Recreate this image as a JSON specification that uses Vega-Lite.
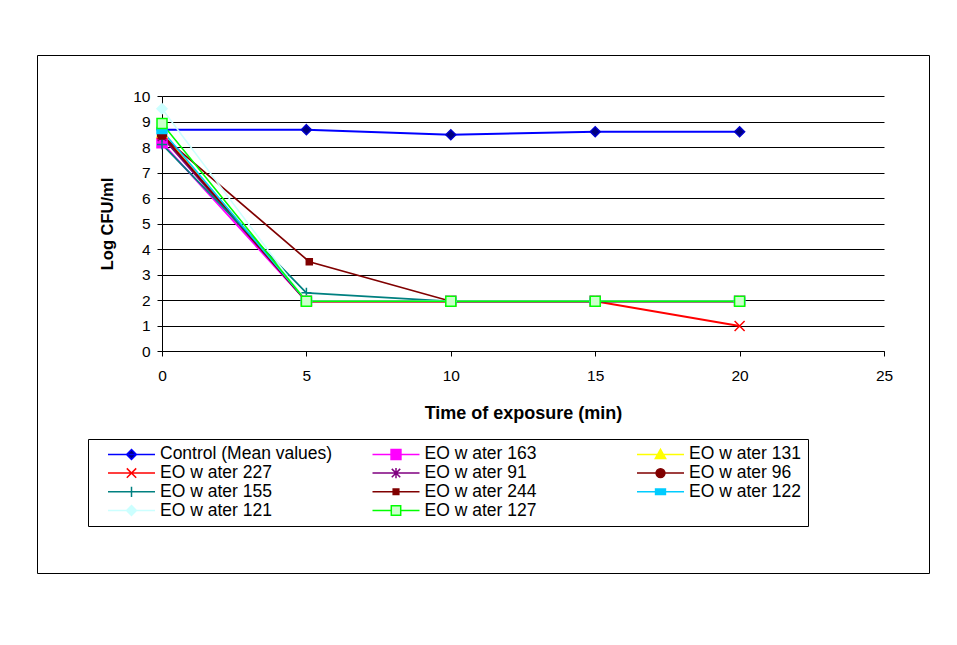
{
  "$schema": "https://vega.github.io/schema/vega-lite/v6.json",
  "autosize": {"type": "none"},
  "width": 892,
  "height": 518,
  "padding": {"left": 37, "top": 55, "right": 28, "bottom": 72},
  "background": "white",
  "config": {
    "view": {"stroke": "#000", "strokeWidth": 1},
    "font": "Liberation Sans"
  },
  "data": {
    "values": [
      {"series": "Control (Mean values)", "time": 0, "value": 8.68},
      {"series": "Control (Mean values)", "time": 5, "value": 8.68},
      {"series": "Control (Mean values)", "time": 10, "value": 8.48},
      {"series": "Control (Mean values)", "time": 15, "value": 8.6},
      {"series": "Control (Mean values)", "time": 20, "value": 8.6},
      {"series": "EO w ater 163", "time": 0, "value": 8.17},
      {"series": "EO w ater 163", "time": 5, "value": 1.95},
      {"series": "EO w ater 163", "time": 10, "value": 1.95},
      {"series": "EO w ater 163", "time": 15, "value": 1.95},
      {"series": "EO w ater 163", "time": 20, "value": 1.95},
      {"series": "EO w ater 131", "time": 0, "value": 8.55},
      {"series": "EO w ater 131", "time": 5, "value": 1.95},
      {"series": "EO w ater 131", "time": 10, "value": 1.95},
      {"series": "EO w ater 131", "time": 15, "value": 1.95},
      {"series": "EO w ater 131", "time": 20, "value": 1.95},
      {"series": "EO w ater 227", "time": 0, "value": 8.5},
      {"series": "EO w ater 227", "time": 5, "value": 1.95},
      {"series": "EO w ater 227", "time": 10, "value": 1.95},
      {"series": "EO w ater 227", "time": 15, "value": 1.95},
      {"series": "EO w ater 227", "time": 20, "value": 0.98},
      {"series": "EO w ater 91", "time": 0, "value": 8.4},
      {"series": "EO w ater 91", "time": 5, "value": 1.95},
      {"series": "EO w ater 91", "time": 10, "value": 1.95},
      {"series": "EO w ater 91", "time": 15, "value": 1.95},
      {"series": "EO w ater 91", "time": 20, "value": 1.95},
      {"series": "EO w ater 96", "time": 0, "value": 8.48},
      {"series": "EO w ater 96", "time": 5, "value": 1.95},
      {"series": "EO w ater 96", "time": 10, "value": 1.95},
      {"series": "EO w ater 96", "time": 15, "value": 1.95},
      {"series": "EO w ater 96", "time": 20, "value": 1.95},
      {"series": "EO w ater 155", "time": 0, "value": 8.1},
      {"series": "EO w ater 155", "time": 5, "value": 2.28},
      {"series": "EO w ater 155", "time": 10, "value": 1.95},
      {"series": "EO w ater 155", "time": 15, "value": 1.95},
      {"series": "EO w ater 155", "time": 20, "value": 1.95},
      {"series": "EO w ater 244", "time": 0, "value": 8.45},
      {"series": "EO w ater 244", "time": 5.1, "value": 3.5},
      {"series": "EO w ater 244", "time": 10, "value": 1.95},
      {"series": "EO w ater 244", "time": 15, "value": 1.95},
      {"series": "EO w ater 244", "time": 20, "value": 1.95},
      {"series": "EO w ater 122", "time": 0, "value": 8.65},
      {"series": "EO w ater 122", "time": 5, "value": 1.95},
      {"series": "EO w ater 122", "time": 10, "value": 1.95},
      {"series": "EO w ater 122", "time": 15, "value": 1.95},
      {"series": "EO w ater 122", "time": 20, "value": 1.95},
      {"series": "EO w ater 121", "time": 0, "value": 9.5},
      {"series": "EO w ater 121", "time": 5, "value": 1.95},
      {"series": "EO w ater 121", "time": 10, "value": 1.95},
      {"series": "EO w ater 121", "time": 15, "value": 1.95},
      {"series": "EO w ater 121", "time": 20, "value": 1.95},
      {"series": "EO w ater 127", "time": 0, "value": 8.92},
      {"series": "EO w ater 127", "time": 5, "value": 1.95},
      {"series": "EO w ater 127", "time": 10, "value": 1.95},
      {"series": "EO w ater 127", "time": 15, "value": 1.95},
      {"series": "EO w ater 127", "time": 20, "value": 1.95}
    ]
  },
  "encoding": {
    "x": {
      "field": "time",
      "type": "quantitative",
      "scale": {"domain": [0, 25], "range": [125, 847], "nice": false, "zero": false},
      "axis": {
        "title": "Time of exposure (min)",
        "values": [0, 5, 10, 15, 20, 25],
        "offset": -222,
        "grid": false,
        "labelFlush": false,
        "labelOverlap": false,
        "domainColor": "#000",
        "tickColor": "#000",
        "tickSize": 5,
        "labelFont": "Liberation Sans",
        "labelFontSize": 15.5,
        "labelColor": "#000",
        "labelPadding": 12,
        "titleFont": "Liberation Sans",
        "titleFontSize": 18,
        "titleFontWeight": "bold",
        "titleColor": "#000",
        "titlePadding": 21
      }
    },
    "y": {
      "field": "value",
      "type": "quantitative",
      "scale": {"domain": [0, 10], "range": [296, 41], "nice": false, "zero": false},
      "axis": {
        "title": "Log CFU/ml",
        "values": [0, 1, 2, 3, 4, 5, 6, 7, 8, 9, 10],
        "offset": -125,
        "grid": true,
        "labelFlush": false,
        "labelOverlap": false,
        "gridColor": "#000",
        "gridWidth": 1,
        "domainColor": "#000",
        "tickColor": "#000",
        "tickSize": 5,
        "labelFont": "Liberation Sans",
        "labelFontSize": 15.5,
        "labelColor": "#000",
        "labelPadding": 7,
        "titleFont": "Liberation Sans",
        "titleFontSize": 16.5,
        "titleFontWeight": "bold",
        "titleColor": "#000",
        "titlePadding": 17
      }
    }
  },
  "layer": [
    {
      "mark": {"type": "line"},
      "encoding": {
        "color": {
          "field": "series",
          "type": "nominal",
          "scale": {
            "domain": ["Control (Mean values)", "EO w ater 163", "EO w ater 131", "EO w ater 227", "EO w ater 91", "EO w ater 96", "EO w ater 155", "EO w ater 244", "EO w ater 122", "EO w ater 121", "EO w ater 127"],
            "range": ["#0000FF", "#FF00FF", "#FFFF00", "#FF0000", "#800080", "#800000", "#008080", "#800000", "#00CCFF", "#CCFFFF", "#00FF00"]
          },
          "legend": null
        },
        "strokeWidth": {
          "field": "series",
          "type": "ordinal",
          "scale": {
            "domain": ["Control (Mean values)", "EO w ater 163", "EO w ater 131", "EO w ater 227", "EO w ater 91", "EO w ater 96", "EO w ater 155", "EO w ater 244", "EO w ater 122", "EO w ater 121", "EO w ater 127"],
            "range": [2, 1.5, 1.5, 1.5, 1.5, 1.5, 1.5, 1.5, 1.5, 1.5, 2.5]
          },
          "legend": null
        }
      }
    },
    {
      "transform": [{"filter": "false"}],
      "mark": {"type": "point", "filled": true, "opacity": 1},
      "encoding": {
        "shape": {
          "field": "series",
          "type": "nominal",
          "scale": {
            "domain": ["Control (Mean values)", "EO w ater 163", "EO w ater 131", "EO w ater 227", "EO w ater 91", "EO w ater 96", "EO w ater 155", "EO w ater 244", "EO w ater 122", "EO w ater 121", "EO w ater 127"],
            "range": [
              "M-1,0H1M0,-0.21L0.21,0L0,0.21L-0.21,0Z",
              "M-1,0H1M-0.21,-0.21H0.21V0.21H-0.21Z",
              "M-1,0H1M0,-0.22L0.22,0.17H-0.22Z",
              "M-1,0H1M-0.2,-0.2L0.2,0.2M-0.2,0.2L0.2,-0.2",
              "M-1,0H1M-0.18,-0.18L0.18,0.18M-0.18,0.18L0.18,-0.18M0,-0.22V0.22",
              "M-1,0H1M-0.19,0A0.19,0.19 0 1,0 0.19,0A0.19,0.19 0 1,0 -0.19,0Z",
              "M-1,0H1M0,-0.22V0.22",
              "M-1,0H1M-0.12,-0.12H0.12V0.12H-0.12Z",
              "M-1,0H1M-0.21,-0.12H0.21V0.12H-0.21Z",
              "M-1,0H1M0,-0.21L0.21,0L0,0.21L-0.21,0Z",
              "M-1,0H-0.2M0.2,0H1M-0.2,-0.2H0.2V0.2H-0.2Z"
            ]
          },
          "legend": {
            "title": null, "orient": "none", "legendX": 51, "legendY": 384, "direction": "horizontal",
            "columns": 3, "gridAlign": "all", "columnPadding": 26.5, "rowPadding": 0.7, "padding": 7,
            "symbolSize": 2209, "symbolStrokeWidth": 1.5, "symbolOffset": 12, "clipHeight": 16.8,
            "labelOffset": 4, "labelFont": "Liberation Sans", "labelFontSize": 17.5, "labelColor": "#000", "labelLimit": 300,
            "strokeColor": "#000", "fillColor": "#fff"
          }
        },
        "fill": {
          "field": "series",
          "type": "nominal",
          "scale": {
            "domain": ["Control (Mean values)", "EO w ater 163", "EO w ater 131", "EO w ater 227", "EO w ater 91", "EO w ater 96", "EO w ater 155", "EO w ater 244", "EO w ater 122", "EO w ater 121", "EO w ater 127"],
            "range": ["#000080", "#FF00FF", "#FFFF00", "#FF0000", "#800080", "#800000", "#008080", "#800000", "#00CCFF", "#CCFFFF", "#CCFFCC"]
          },
          "legend": {
            "title": null, "orient": "none", "legendX": 51, "legendY": 384, "direction": "horizontal",
            "columns": 3, "gridAlign": "all", "columnPadding": 26.5, "rowPadding": 0.7, "padding": 7,
            "symbolSize": 2209, "symbolStrokeWidth": 1.5, "symbolOffset": 12, "clipHeight": 16.8,
            "labelOffset": 4, "labelFont": "Liberation Sans", "labelFontSize": 17.5, "labelColor": "#000", "labelLimit": 300,
            "strokeColor": "#000", "fillColor": "#fff"
          }
        },
        "stroke": {
          "field": "series",
          "type": "nominal",
          "scale": {
            "domain": ["Control (Mean values)", "EO w ater 163", "EO w ater 131", "EO w ater 227", "EO w ater 91", "EO w ater 96", "EO w ater 155", "EO w ater 244", "EO w ater 122", "EO w ater 121", "EO w ater 127"],
            "range": ["#0000FF", "#FF00FF", "#FFFF00", "#FF0000", "#800080", "#800000", "#008080", "#800000", "#00CCFF", "#CCFFFF", "#00FF00"]
          },
          "legend": {
            "title": null, "orient": "none", "legendX": 51, "legendY": 384, "direction": "horizontal",
            "columns": 3, "gridAlign": "all", "columnPadding": 26.5, "rowPadding": 0.7, "padding": 7,
            "symbolSize": 2209, "symbolStrokeWidth": 1.5, "symbolOffset": 12, "clipHeight": 16.8,
            "labelOffset": 4, "labelFont": "Liberation Sans", "labelFontSize": 17.5, "labelColor": "#000", "labelLimit": 300,
            "strokeColor": "#000", "fillColor": "#fff"
          }
        }
      }
    },
    {
      "mark": {"type": "point", "filled": true, "opacity": 1, "size": 100, "strokeWidth": 1.5},
      "encoding": {
        "shape": {
          "field": "series",
          "type": "nominal",
          "scale": {
            "domain": ["Control (Mean values)", "EO w ater 163", "EO w ater 131", "EO w ater 227", "EO w ater 91", "EO w ater 96", "EO w ater 155", "EO w ater 244", "EO w ater 122", "EO w ater 121", "EO w ater 127"],
            "range": [
              "M0,-1L1,0L0,1L-1,0Z",
              "M-1,-1H1V1H-1Z",
              "M0,-1L1,0.8H-1Z",
              "M-1,-1L1,1M-1,1L1,-1",
              "M-0.85,-0.85L0.85,0.85M-0.85,0.85L0.85,-0.85M0,-1V1",
              "M-0.9,0A0.9,0.9 0 1,0 0.9,0A0.9,0.9 0 1,0 -0.9,0Z",
              "M-1,0H1M0,-1V1",
              "M-0.6,-0.6H0.6V0.6H-0.6Z",
              "M-1,-0.6H1V0.6H-1Z",
              "M0,-1L1,0L0,1L-1,0Z",
              "M-1,-1H1V1H-1Z"
            ]
          },
          "legend": null
        },
        "fill": {
          "field": "series",
          "type": "nominal",
          "scale": {
            "domain": ["Control (Mean values)", "EO w ater 163", "EO w ater 131", "EO w ater 227", "EO w ater 91", "EO w ater 96", "EO w ater 155", "EO w ater 244", "EO w ater 122", "EO w ater 121", "EO w ater 127"],
            "range": ["#000080", "#FF00FF", "#FFFF00", "#FF0000", "#800080", "#800000", "#008080", "#800000", "#00CCFF", "#CCFFFF", "#CCFFCC"]
          },
          "legend": null
        },
        "stroke": {
          "field": "series",
          "type": "nominal",
          "scale": {
            "domain": ["Control (Mean values)", "EO w ater 163", "EO w ater 131", "EO w ater 227", "EO w ater 91", "EO w ater 96", "EO w ater 155", "EO w ater 244", "EO w ater 122", "EO w ater 121", "EO w ater 127"],
            "range": ["#0000CC", "#FF00FF", "#FFFF00", "#FF0000", "#800080", "#800000", "#008080", "#800000", "#00CCFF", "#CCFFFF", "#00FF00"]
          },
          "legend": null
        }
      }
    }
  ],
  "resolve": {"scale": {"shape": "independent", "fill": "independent", "stroke": "independent"}}
}
